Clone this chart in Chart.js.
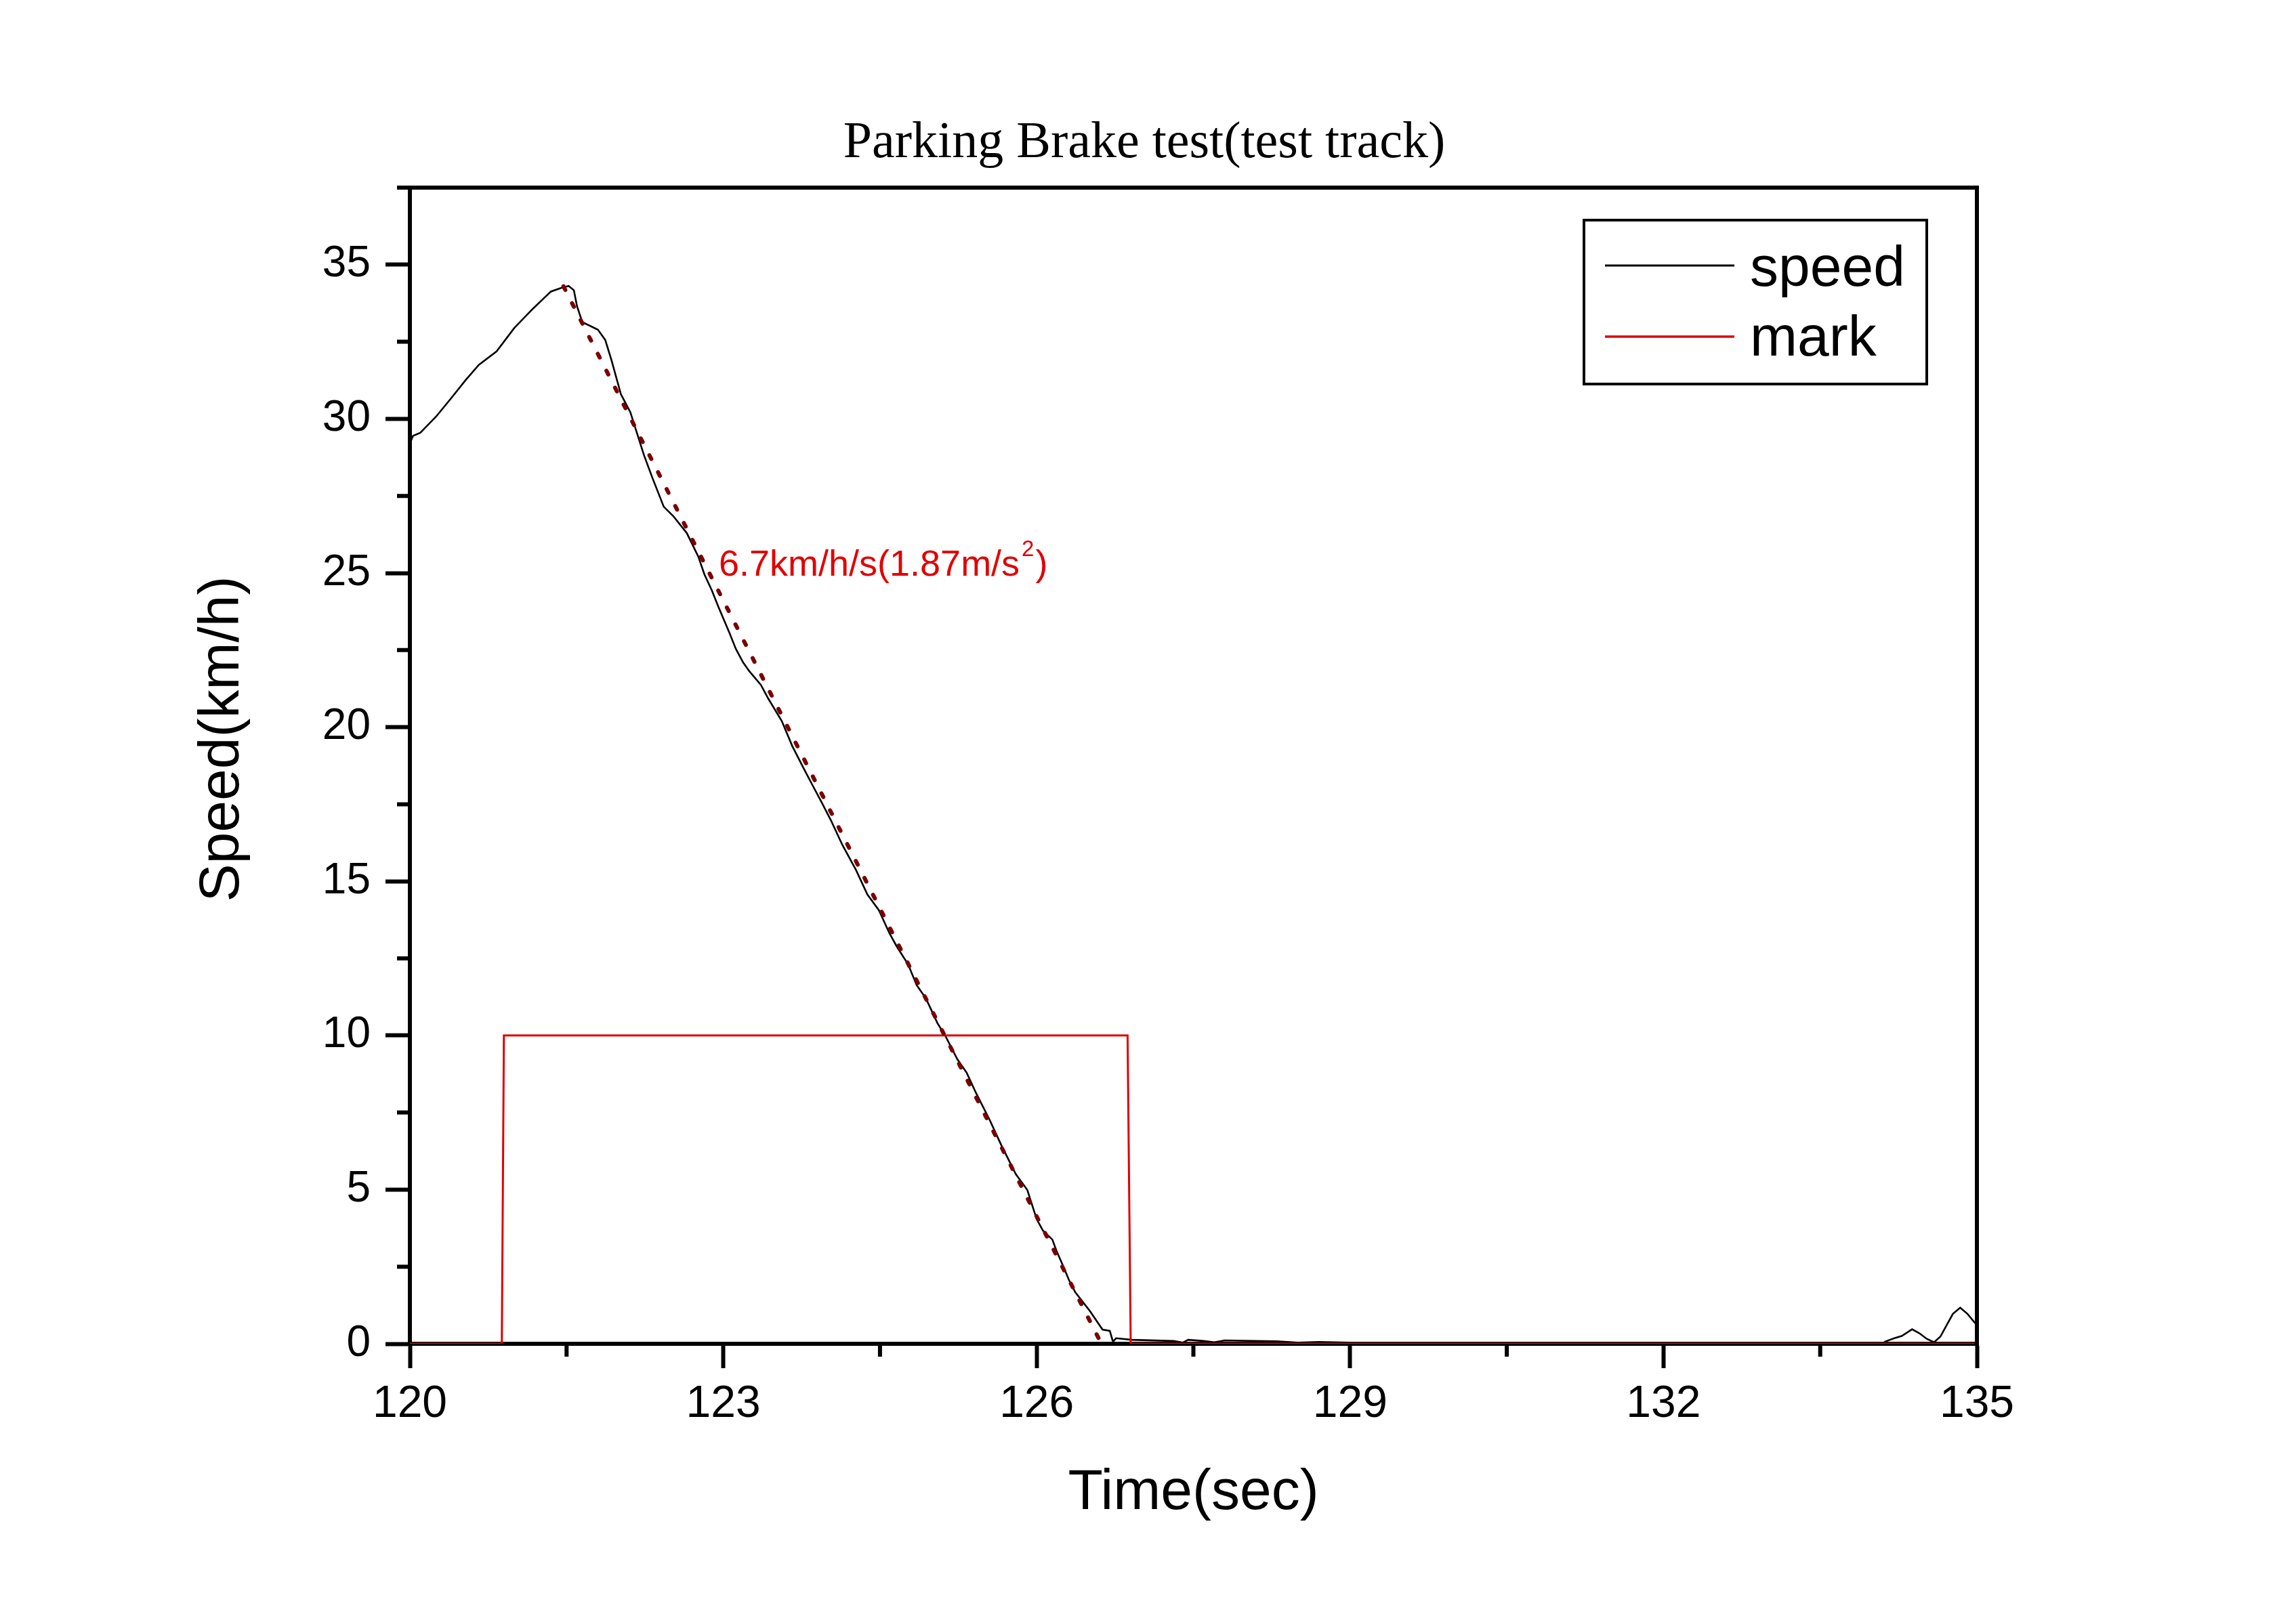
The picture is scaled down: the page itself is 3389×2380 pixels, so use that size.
<!DOCTYPE html>
<html>
<head>
<meta charset="utf-8">
<title>Parking Brake test</title>
<script src="https://cdn.jsdelivr.net/npm/chart.js@4.4.1/dist/chart.umd.min.js"></script>
<style>
  html, body { margin: 0; padding: 0; background: #fff; }
  canvas { display: block; }
</style>
</head>
<body>
<canvas id="chart" width="3389" height="2380"></canvas>
<script>
// speed trace (sec, km/h)
const speedTime = [120.0, 120.03, 120.1, 120.25, 120.4, 120.53, 120.66, 120.83, 121.0, 121.18,
  121.35, 121.45, 121.52, 121.57, 121.6, 121.65, 121.8, 121.87, 121.93, 122.02,
  122.11, 122.24, 122.32, 122.43, 122.52, 122.65, 122.76, 122.82, 122.89, 122.95,
  123.06, 123.12, 123.19, 123.25, 123.36, 123.43, 123.56, 123.66, 123.77, 123.86,
  123.94, 124.03, 124.14, 124.27, 124.38, 124.49, 124.59, 124.66, 124.77, 124.85,
  124.94, 125.05, 125.13, 125.24, 125.33, 125.42, 125.55, 125.66, 125.8, 125.91,
  126.0, 126.06, 126.15, 126.19, 126.25, 126.31, 126.37, 126.51, 126.63, 126.7,
  126.73, 126.76, 126.91, 127.31, 127.4, 127.45, 127.6, 127.7, 127.8, 128.3,
  128.5, 128.7, 129.0, 129.65, 130.0, 134.1, 134.12, 134.21, 134.28, 134.38,
  134.45, 134.52, 134.59, 134.65, 134.71, 134.77, 134.84, 134.91, 135.0];
const speedValue = [29.2, 29.45, 29.55, 30.07, 30.69, 31.24, 31.75, 32.19, 32.95, 33.58,
  34.13, 34.25, 34.31, 34.17, 33.65, 33.14, 32.89, 32.56, 31.9, 30.8,
  30.22, 28.83, 28.1, 27.15, 26.85, 26.3, 25.54, 24.95, 24.44, 23.93,
  23.05, 22.54, 22.1, 21.81, 21.37, 20.93, 20.2, 19.39, 18.66, 18.08,
  17.57, 16.98, 16.18, 15.37, 14.57, 14.06, 13.32, 12.89, 12.3, 11.64,
  11.2, 10.4, 9.96, 9.23, 8.79, 8.13, 7.26, 6.45, 5.5, 4.99,
  4.04, 3.67, 3.38, 3.01, 2.55, 2.06, 1.67, 1.06, 0.46, 0.42,
  0.07, 0.18, 0.13, 0.09, 0.04, 0.13, 0.09, 0.05, 0.11, 0.08,
  0.04, 0.06, 0.04, 0.03, 0.0, 0.0, 0.07, 0.18, 0.25, 0.47,
  0.34, 0.16, 0.05, 0.23, 0.6, 0.97, 1.17, 0.97, 0.6];

// brake mark signal
const markTime = [120.0, 120.88, 120.9, 126.87, 126.9, 135.0];
const markValue = [0, 0, 10, 10, 0, 0];

// fitted deceleration line
const fitTime = [121.47, 126.62];
const fitValue = [34.3, 0];

// axis ticks
const xMajorTicks = [120, 123, 126, 129, 132, 135];
const xMinorTicks = [121.5, 124.5, 127.5, 130.5, 133.5];
const yMajorTicks = [0, 5, 10, 15, 20, 25, 30, 35];
const yMinorTicks = [2.5, 7.5, 12.5, 17.5, 22.5, 27.5, 32.5, 37.5];

const toPoints = (xs, ys) => xs.map((x, i) => ({ x: x, y: ys[i] }));
const isMajor = (list, v) => list.some(m => Math.abs(m - v) < 1e-6);

const SANS = 'Liberation Sans, Arial, sans-serif';
const SERIF = 'Liberation Serif, Times New Roman, serif';

// title, y title, legend box, annotation, minor ticks, top/right frame
const extras = {
    id: 'extras',
    afterDraw(chart) {
        const ctx = chart.ctx;
        const area = chart.chartArea;
        const xs = chart.scales.x;
        const ys = chart.scales.y;
        ctx.save();

        // frame top & right
        ctx.strokeStyle = '#000';
        ctx.lineWidth = 6;
        ctx.beginPath();
        ctx.moveTo(area.left - 3, area.top);
        ctx.lineTo(area.right, area.top);
        ctx.lineTo(area.right, area.bottom + 3);
        ctx.stroke();

        // minor ticks
        ctx.beginPath();
        xMinorTicks.forEach(v => {
            const px = xs.getPixelForValue(v);
            ctx.moveTo(px, area.bottom);
            ctx.lineTo(px, area.bottom + 19);
        });
        yMinorTicks.forEach(v => {
            const py = ys.getPixelForValue(v);
            ctx.moveTo(area.left, py);
            ctx.lineTo(area.left - 19, py);
        });
        ctx.stroke();

        // title
        ctx.fillStyle = '#000';
        ctx.font = '76px ' + SERIF;
        ctx.textAlign = 'center';
        ctx.textBaseline = 'alphabetic';
        ctx.fillText('Parking Brake test(test track)', area.left + 1084, area.top - 45);

        // y axis title
        ctx.save();
        ctx.translate(area.left - 276, area.top + 814);
        ctx.rotate(-Math.PI / 2);
        ctx.font = '84px ' + SANS;
        ctx.textBaseline = 'middle';
        ctx.fillText('Speed(km/h)', 0, 0);
        ctx.restore();

        // legend
        const lx = area.right - 580;
        const ly = area.top + 48;
        ctx.strokeStyle = '#000';
        ctx.lineWidth = 4;
        ctx.strokeRect(lx, ly, 506, 242);
        ctx.lineWidth = 3;
        ctx.beginPath();
        ctx.moveTo(lx + 31, ly + 67);
        ctx.lineTo(lx + 222, ly + 67);
        ctx.stroke();
        ctx.strokeStyle = '#e00000';
        ctx.lineWidth = 3.5;
        ctx.beginPath();
        ctx.moveTo(lx + 31, ly + 172);
        ctx.lineTo(lx + 222, ly + 172);
        ctx.stroke();
        ctx.font = '84px ' + SANS;
        ctx.textAlign = 'left';
        ctx.fillStyle = '#000';
        ctx.fillText('speed', lx + 245, ly + 97);
        ctx.fillText('mark', lx + 245, ly + 200);

        // slope annotation
        const ax = xs.getPixelForValue(122.957);
        const ay = ys.getPixelForValue(24.92);
        ctx.fillStyle = '#e00000';
        ctx.font = '54px ' + SANS;
        const main = '6.7km/h/s(1.87m/s';
        ctx.fillText(main, ax, ay);
        let w = ctx.measureText(main).width;
        ctx.font = '33px ' + SANS;
        ctx.fillText('2', ax + w + 3, ay - 29);
        w += ctx.measureText('2').width + 5;
        ctx.font = '54px ' + SANS;
        ctx.fillText(')', ax + w, ay);

        ctx.restore();
    }
};

const ctx = document.getElementById('chart');
new Chart(ctx, {
    type: 'line',
    data: {
        datasets: [
            {
                label: 'fit',
                data: toPoints(fitTime, fitValue),
                borderColor: '#7a0000',
                borderWidth: 6,
                borderDash: [6, 22],
                borderCapStyle: 'round',
                pointRadius: 0,
                fill: false
            },
            {
                label: 'mark',
                data: toPoints(markTime, markValue),
                borderColor: '#e00000',
                borderWidth: 3,
                pointRadius: 0,
                tension: 0,
                fill: false
            },
            {
                label: 'speed',
                data: toPoints(speedTime, speedValue),
                borderColor: '#000',
                borderWidth: 2.6,
                pointRadius: 0,
                tension: 0,
                fill: false
            }
        ]
    },
    options: {
        responsive: false,
        animation: false,
        devicePixelRatio: 1,
        layout: { padding: { left: 0, right: 471, top: 277, bottom: 0 } },
        plugins: {
            legend: { display: false },
            title: { display: false },
            tooltip: { enabled: false }
        },
        scales: {
            x: {
                type: 'linear',
                min: 120,
                max: 135,
                afterFit: s => { s.height = 396; },
                afterBuildTicks: s => {
                    s.ticks = xMajorTicks.concat(xMinorTicks).sort((a, b) => a - b).map(v => ({ value: v }));
                },
                ticks: {
                    autoSkip: false,
                    maxRotation: 0,
                    padding: 14,
                    color: '#000',
                    font: { family: SANS, size: 66 },
                    callback: v => isMajor(xMajorTicks, v) ? String(Math.round(v)) : ''
                },
                grid: {
                    drawOnChartArea: false,
                    drawTicks: true,
                    tickLength: 36,
                    tickWidth: 6,
                    tickColor: c => (c.tick && isMajor(xMajorTicks, c.tick.value)) ? '#000' : 'rgba(0,0,0,0)'
                },
                border: { display: true, width: 6, color: '#000' },
                title: {
                    display: true,
                    text: 'Time(sec)',
                    color: '#000',
                    font: { family: SANS, size: 84 },
                    padding: { top: 0, bottom: 125 }
                }
            },
            y: {
                type: 'linear',
                min: 0,
                max: 37.5,
                afterFit: s => { s.width = 605; },
                afterBuildTicks: s => {
                    s.ticks = yMajorTicks.concat(yMinorTicks).sort((a, b) => a - b).map(v => ({ value: v }));
                },
                ticks: {
                    autoSkip: false,
                    padding: 22,
                    color: '#000',
                    font: { family: SANS, size: 64 },
                    callback: v => isMajor(yMajorTicks, v) ? String(v) : ''
                },
                grid: {
                    drawOnChartArea: false,
                    drawTicks: true,
                    tickLength: 36,
                    tickWidth: 6,
                    tickColor: c => (c.tick && isMajor(yMajorTicks, c.tick.value)) ? '#000' : 'rgba(0,0,0,0)'
                },
                border: { display: true, width: 6, color: '#000' }
            }
        }
    },
    plugins: [extras]
});
</script>
</body>
</html>
